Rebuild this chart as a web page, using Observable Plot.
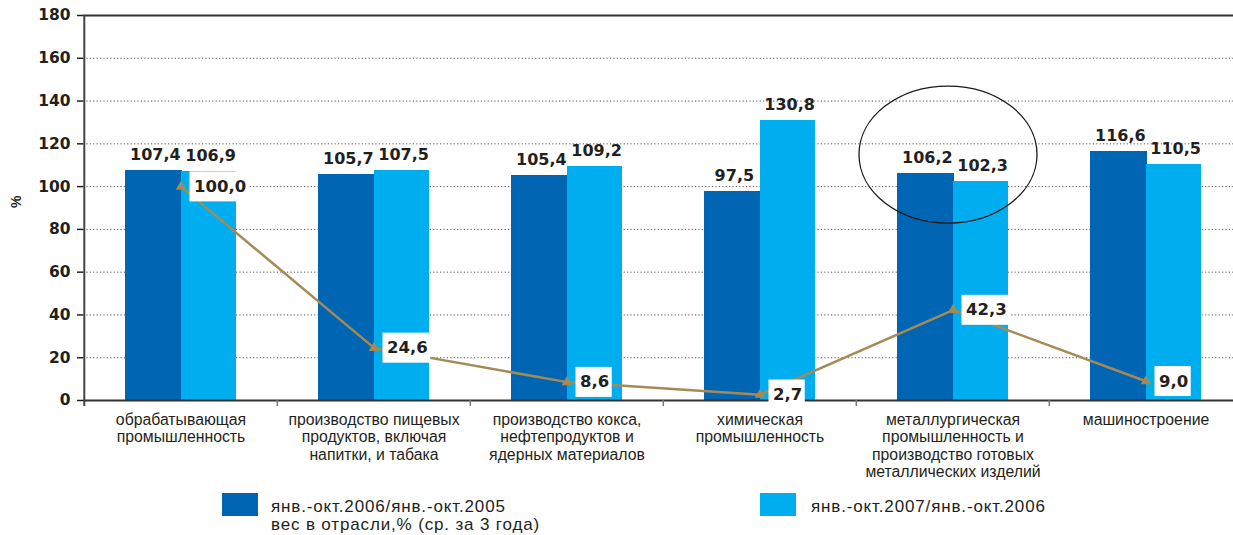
<!DOCTYPE html>
<html>
<head>
<meta charset="utf-8">
<script src="https://cdn.jsdelivr.net/npm/d3@7"></script>
<script src="https://cdn.jsdelivr.net/npm/@observablehq/plot@0.6"></script>
<style>
  html, body { margin: 0; padding: 0; background: #fff; }
  #wrap { position: relative; width: 1233px; height: 535px; overflow: hidden; background: #fff; }
  #wrap svg { display: block; }
  .leg { position: absolute; font-family: "Liberation Sans", Arial, sans-serif; font-weight: normal; font-size: 17px; letter-spacing: 0.85px; line-height: 18px; color: #231f20; white-space: nowrap; }
  .sw { position: absolute; width: 36px; height: 23px; }
</style>
</head>
<body>
<div id="wrap"></div>
<script>
// ---- data ----
const categories = [
  "обрабатывающая\nпромышленность",
  "производство пищевых\nпродуктов, включая\nнапитки, и табака",
  "производство кокса,\nнефтепродуктов и\nядерных материалов",
  "химическая\nпромышленность",
  "металлургическая\nпромышленность и\nпроизводство готовых\nметаллических изделий",
  "машиностроение"
];
const series2006 = [107.4, 105.7, 105.4, 97.5, 106.2, 116.6];
const series2007 = [106.9, 107.5, 109.2, 130.8, 102.3, 110.5];
const weights = [100.0, 24.6, 8.6, 2.7, 42.3, 9.0];
const yTicks = [0, 20, 40, 60, 80, 100, 120, 140, 160, 180];
const seriesNames = ["янв.-окт.2006/янв.-окт.2005", "янв.-окт.2007/янв.-окт.2006", "вес в отрасли,% (ср. за 3 года)"];
const highlight = {category: categories[4], value: 115};

// ---- styles ----
const DARK = "#0066b3", LIGHT = "#00aeef", LINE = "#a68a55", INK = "#231f20";
const NUMFONT = "DejaVu Sans";
const fmt = v => v.toFixed(1).replace(".", ",");
const rows = categories.map((c, i) => ({c, a: series2006[i], b: series2007[i], w: weights[i]}));
const half = 27.65, step2 = 96.7;

// ellipse symbol for the highlight annotation
const ellipse = {
  draw(ctx) {
    const rx = 89, ry = 68.5, k = 0.5523;
    ctx.moveTo(rx, 0);
    ctx.bezierCurveTo(rx, ry * k, rx * k, ry, 0, ry);
    ctx.bezierCurveTo(-rx * k, ry, -rx, ry * k, -rx, 0);
    ctx.bezierCurveTo(-rx, -ry * k, -rx * k, -ry, 0, -ry);
    ctx.bezierCurveTo(rx * k, -ry, rx, -ry * k, rx, 0);
    ctx.closePath();
  }
};

const chart = Plot.plot({
  width: 1233,
  height: 485,
  marginLeft: 83,
  marginRight: -10.4,
  marginTop: 15,
  marginBottom: 85,
  style: {background: "white", color: INK, fontFamily: "Liberation Sans, Arial, sans-serif"},
  x: {domain: categories, paddingInner: 0.714, paddingOuter: 0.357, axis: null},
  y: {domain: [0, 180], axis: null},
  marks: [
    Plot.ruleY(yTicks.filter(t => t > 0 && t < 180), {stroke: "#555", strokeWidth: 1, strokeDasharray: "1.2,2.2"}),
    Plot.barY(rows, {x: "c", y: "a", fill: DARK, dx: -half, insetRight: -1.5, shapeRendering: "crispEdges"}),
    Plot.barY(rows, {x: "c", y: "b", fill: LIGHT, dx: half, shapeRendering: "crispEdges"}),
    Plot.ruleY([180], {stroke: "#333", strokeWidth: 2}),
    Plot.ruleY([0], {stroke: "#333", strokeWidth: 2}),
    // category boundary ticks
    Plot.ruleX(rows.slice(1), {x: "c", y1: 0, y2: 0, insetTop: 6, dx: -step2, stroke: "#777", strokeWidth: 1.5}),
    // y axis line
    Plot.ruleX(rows.slice(0, 1), {x: "c", y1: 0, y2: 180, insetTop: 6, dx: -step2, stroke: "#444", strokeWidth: 2}),
    Plot.axisY({ticks: yTicks, tickSize: 6, tickPadding: 7, strokeWidth: 1.5, fontSize: 15.5, fontWeight: "bold", fontFamily: NUMFONT, label: null}),
    Plot.text(["%"], {frameAnchor: "left", dx: -67, rotate: -90, fontSize: 14, fontWeight: "bold", fill: INK}),
    // bar value labels
    Plot.text(rows, {x: "c", y: "a", text: d => fmt(d.a), dx: -half + 2, dy: -10.5, lineAnchor: "bottom", fontSize: 16, fontWeight: "bold", fontFamily: NUMFONT, fill: INK}),
    Plot.text(rows, {x: "c", y: "b", text: d => fmt(d.b), dx: half + 2, dy: -10.5, lineAnchor: "bottom", fontSize: 16, fontWeight: "bold", fontFamily: NUMFONT, fill: INK}),
    // weight line
    Plot.line(rows, {x: "c", y: "w", stroke: LINE, strokeWidth: 2.5}),
    Plot.dot(rows, {x: "c", y: "w", symbol: "triangle", r: 3.9, fill: LINE, stroke: "none"}),
    Plot.text(rows, {x: "c", y: "w", text: d => fmt(d.w), dx: 13, textAnchor: "start", lineAnchor: "middle", fontSize: 16.5, fontWeight: "bold", fontFamily: NUMFONT, fill: INK, ariaDescription: "weight-labels"}),
    // highlight ellipse
    Plot.dot([highlight], {x: "category", y: "value", symbol: ellipse, r: 10, fill: "none", stroke: "#1a1a1a", strokeWidth: 1.3, dx: -5}),
    // category labels
    Plot.text(rows, {x: "c", text: "c", frameAnchor: "bottom", lineAnchor: "top", dy: 12, fontSize: 15.8, lineHeight: 1.1, fill: INK})
  ]
});

const wrap = document.getElementById("wrap");
wrap.appendChild(chart);

// white boxes behind weight labels
const ns = "http://www.w3.org/2000/svg";
let g = chart.querySelector('g[aria-description="weight-labels"]');
if (!g) {
  const labelSet = new Set(weights.map(fmt));
  g = Array.from(chart.querySelectorAll("g")).find(gg => {
    const ts = Array.from(gg.children).filter(n => n.tagName === "text");
    return ts.length === weights.length && ts.every(t => labelSet.has(t.textContent));
  });
}
if (g) {
  Array.from(g.querySelectorAll("text")).forEach(t => {
    const b = t.getBBox();
    const r = document.createElementNS(ns, "rect");
    r.setAttribute("x", b.x - 4.5);
    r.setAttribute("y", b.y + b.height / 2 - 15);
    r.setAttribute("width", b.width + 7);
    r.setAttribute("height", 30);
    r.setAttribute("fill", "white");
    const tr = t.getAttribute("transform");
    if (tr) r.setAttribute("transform", tr);
    t.parentNode.insertBefore(r, t);
  });
}

// legend
function addSwatch(left, top, color) {
  const s = document.createElement("div");
  s.className = "sw";
  s.style.left = left + "px"; s.style.top = top + "px"; s.style.background = color;
  wrap.appendChild(s);
}
function addText(left, top, lines) {
  lines.forEach((l, i) => {
    const d = document.createElement("div");
    d.className = "leg";
    d.style.left = left + "px"; d.style.top = (top + i * 18) + "px";
    d.textContent = l;
    wrap.appendChild(d);
  });
}
addSwatch(222, 493, DARK);
addText(271, 498, [seriesNames[0], seriesNames[2]]);
addSwatch(760, 493, LIGHT);
addText(811, 498, [seriesNames[1]]);
</script>
</body>
</html>
